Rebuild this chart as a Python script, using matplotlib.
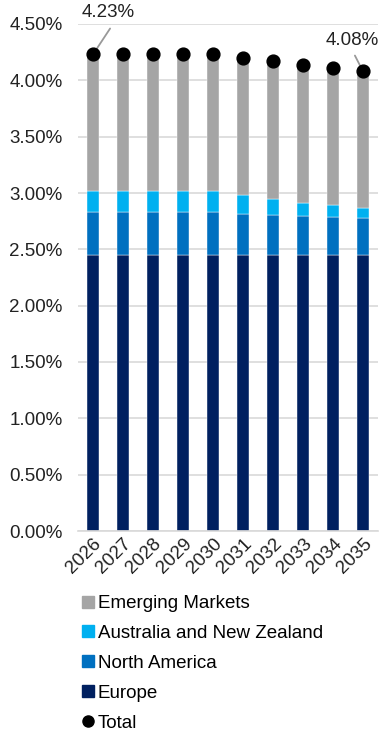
import matplotlib
matplotlib.use("Agg")
import matplotlib.pyplot as plt
from matplotlib.lines import Line2D
from matplotlib.ticker import FuncFormatter
import numpy as np

plt.rcParams['font.family'] = ['Liberation Sans', 'DejaVu Sans']

years = ['2026', '2027', '2028', '2029', '2030', '2031', '2032', '2033', '2034', '2035']
europe = [2.45, 2.45, 2.45, 2.45, 2.45, 2.45, 2.45, 2.45, 2.45, 2.45]
north_america = [0.38, 0.38, 0.38, 0.38, 0.38, 0.365, 0.355, 0.345, 0.335, 0.325]
australia_nz = [0.19, 0.19, 0.19, 0.19, 0.19, 0.17, 0.14, 0.12, 0.105, 0.09]
emerging = [1.21, 1.21, 1.21, 1.21, 1.21, 1.215, 1.225, 1.225, 1.22, 1.215]

series = [
    ('Europe', europe, '#002060'),
    ('North America', north_america, '#0070C0'),
    ('Australia and New Zealand', australia_nz, '#00B0F0'),
    ('Emerging Markets', emerging, '#A5A5A5'),
]
total = np.sum([s[1] for s in series], axis=0)

FS = 13.5

fig = plt.figure(figsize=(3.81, 7.34), dpi=100)
ax = fig.add_axes([78 / 381, 1 - 531 / 734, 300 / 381, 507 / 734])

x = np.arange(len(years))
bottom = np.zeros(len(years))
for name, vals, color in series:
    ax.bar(x, vals, width=0.39, bottom=bottom, color=color, label=name,
           edgecolor='#ffffff', linewidth=0.3, zorder=2)
    bottom += np.array(vals)

ax.scatter(x, total, s=85, color='black', zorder=3, label='Total')

ax.set_ylim(0, 4.5)
ax.set_xlim(-0.5, len(years) - 0.5)
ax.set_yticks(np.arange(0, 4.51, 0.5))
ax.yaxis.set_major_formatter(FuncFormatter(lambda v, p: f'{v:.2f}%'))
ax.grid(axis='y', color='#d9d9d9', linewidth=1.2, zorder=0)
ax.set_axisbelow(True)
for side in ['top', 'right', 'left']:
    ax.spines[side].set_visible(False)
ax.spines['bottom'].set_color('#d9d9d9')
ax.spines['bottom'].set_linewidth(1.2)
ax.tick_params(axis='both', length=0, labelsize=FS, colors='#222222')
ax.tick_params(axis='y', pad=11)
ax.tick_params(axis='x', pad=3)
ax.set_xticks(x)
ax.set_xticklabels(years, rotation=45, ha='right', rotation_mode='anchor')

# first and last totals: label plus a grey leader line to the dot
leader = dict(arrowstyle='-', color='#999999', lw=1.3, shrinkA=0, shrinkB=2)
for i, (tx, ty), (lx, ly) in [(0, (0.5, 4.6), (0.57, 4.46)),
                              (-1, (8.63, 4.35), (8.73, 4.22))]:
    ax.text(tx, ty, f'{total[i]:.2f}%', ha='center', va='center',
            fontsize=FS, color='#222222', clip_on=False)
    ax.annotate('', xy=(x[i], total[i]), xytext=(lx, ly),
                arrowprops=leader, annotation_clip=False, zorder=2.5)

handles = [Line2D([], [], marker='s', linestyle='', markersize=8, color=c)
           for _, _, c in reversed(series)]
handles.append(Line2D([], [], marker='o', linestyle='', markersize=8, color='black'))
labels = [n for n, _, _ in reversed(series)] + ['Total']
fig.legend(handles, labels, loc='upper left', bbox_to_anchor=(80 / 381, 1 - 595 / 734),
           frameon=False, fontsize=FS, handletextpad=0.05, labelspacing=0.68,
           handlelength=0.9, borderaxespad=0, borderpad=0)

fig.savefig('out.png', dpi=100)
